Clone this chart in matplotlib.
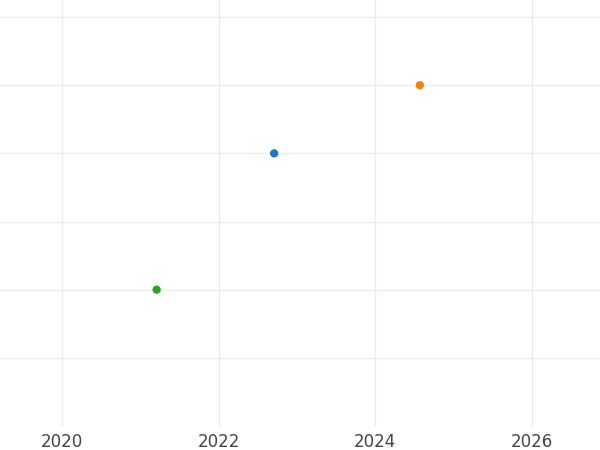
import numpy as np
import matplotlib
matplotlib.use("Agg")
import matplotlib.pyplot as plt

# data
years = [2022.71, 2024.57, 2021.21]
values = [4, 5, 2]
colors = ["#1f77b4", "#ff7f0e", "#2ca02c"]

xticks = [2020, 2022, 2024, 2026]
yticks = [0, 1, 2, 3, 4, 5, 6]

fig = plt.figure(figsize=(6, 4.5), dpi=100)
ax = fig.add_axes([0, 24 / 450, 1, 426 / 450])

ax.scatter(years, values, c=colors, s=36, zorder=3, linewidths=0)

ax.set_xlim(2019.21, 2026.87)
ax.set_ylim(0, 6.25)
ax.set_xticks(xticks)
ax.set_xticklabels([str(t) for t in xticks])
ax.set_yticks(yticks[1:])
ax.set_yticklabels([])

ax.grid(True, color="#ebebeb", linewidth=1.0)
ax.set_axisbelow(True)
for s in ax.spines.values():
    s.set_visible(False)
ax.tick_params(axis="both", length=0)
ax.tick_params(axis="x", labelsize=12, labelcolor="#444444", pad=4.8)

fig.savefig("out.png", dpi=100)
